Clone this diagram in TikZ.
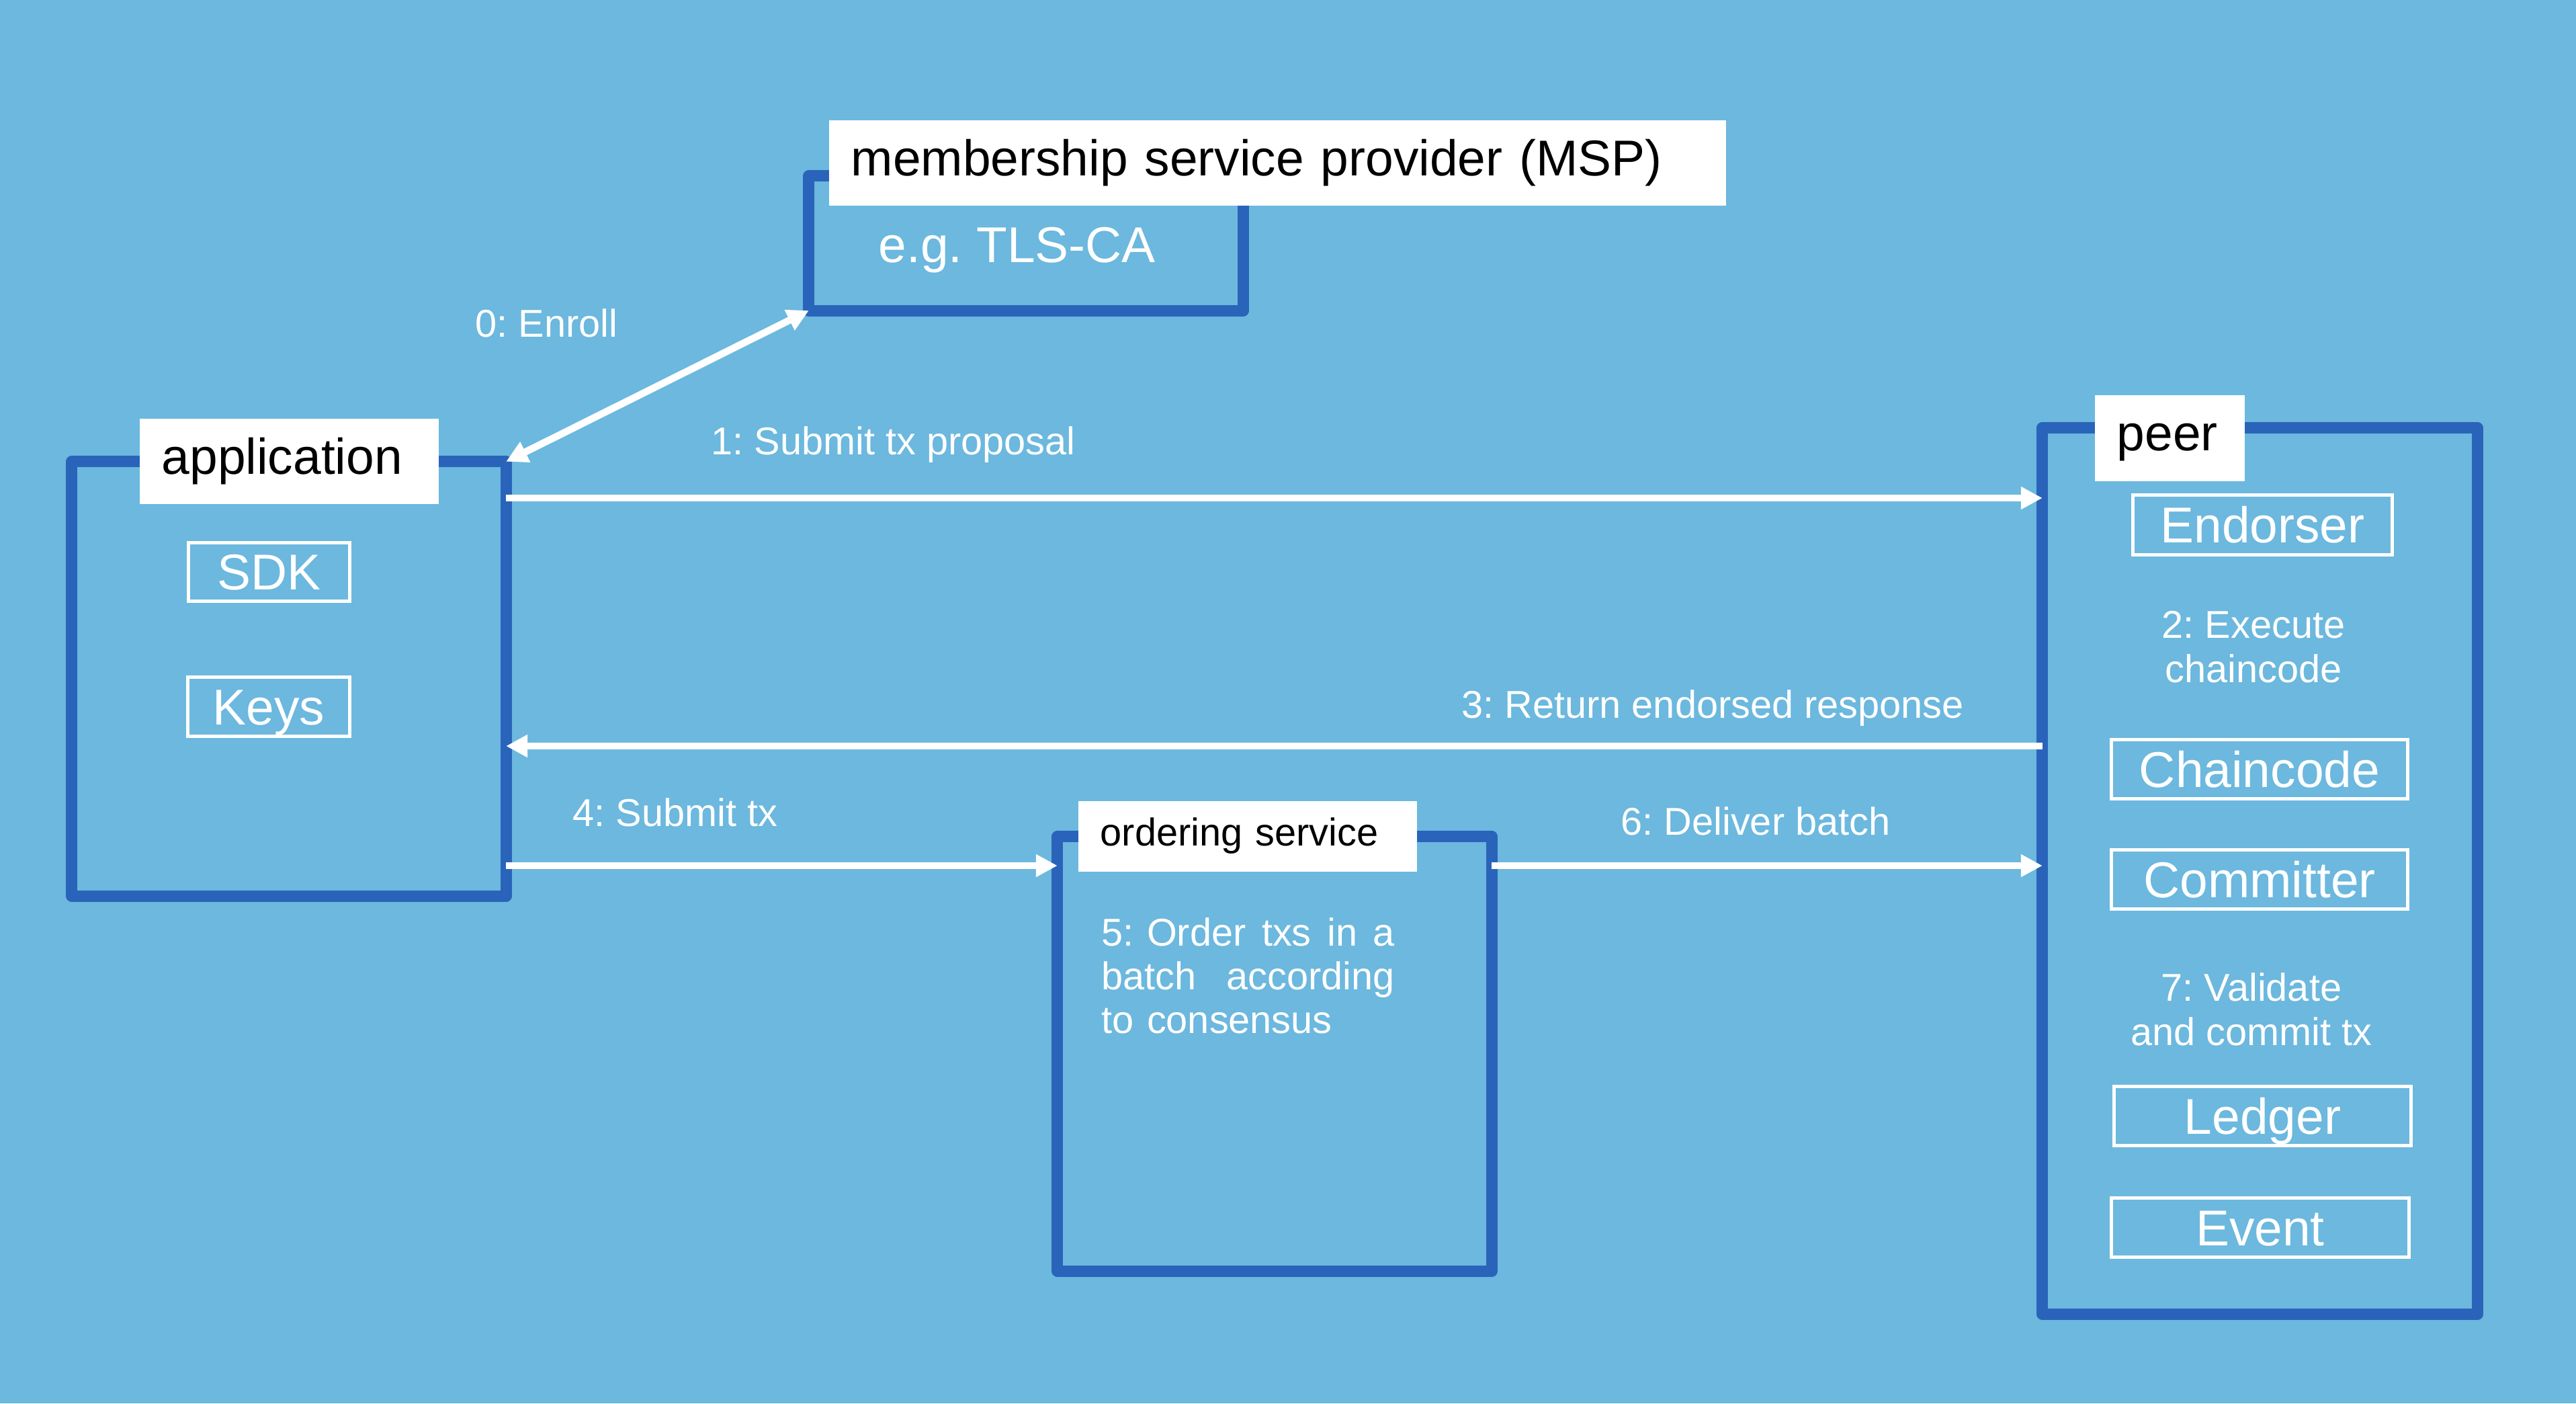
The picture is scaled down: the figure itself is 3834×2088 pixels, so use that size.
\documentclass[tikz,border=0pt]{standalone}
\usepackage{fontspec}
\setmainfont{Liberation Sans}
\usetikzlibrary{arrows.meta}
\frenchspacing

\definecolor{skyblue}{HTML}{6CB8DE}
\definecolor{frameblue}{HTML}{2964BA}

\tikzset{
    bigtxt/.style={font=\fontsize{21.3pt}{25pt}\selectfont},
    smalltxt/.style={font=\fontsize{16.4pt}{18.6pt}\selectfont},
    tag/.style={fill=white, text=black, anchor=west, inner xsep=0.33cm, inner ysep=0pt,
        align=left, text height=16pt, text depth=5.3pt},
    inbox/.style={draw=white, line width=0.05cm, text=white, inner sep=0pt,
        text height=15.3pt, text depth=0pt, bigtxt},
    note/.style={text=white, inner sep=0pt, smalltxt},
    flow/.style={draw=white, line width=0.105cm, ->},
}

\begin{document}
\begin{tikzpicture}[x=0.01cm, y=-0.01cm, >={Triangle[length=0.32cm, width=0.32cm]}]
    \fill[skyblue] (0,0) rectangle (3834,2088);
    \useasboundingbox (0,0) rectangle (3834,2088);

    % Rahmen
    \begin{scope}[every node/.style={draw=frameblue, line width=0.17cm, line join=round,
            outer sep=0pt, minimum width=6.46cm}]
        \node[minimum height=2cm] (msp) at (1527,362) {};
        \node[minimum height=6.46cm] (app) at (430,1010) {};
        \node[minimum height=6.46cm] (ord) at (1897,1568) {};
        \node[minimum width=6.47cm, minimum height=13.18cm] (peer) at (3363.5,1296) {};
    \end{scope}

    % Titel
    \node[tag, bigtxt, text width=12.68cm, minimum height=1.27cm] (msptag) at (1233,242.5) {membership service provider (MSP)};
    \node[tag, bigtxt, text width=3.79cm, minimum height=1.27cm] (apptag) at (207,686.5) {application};
    \node[tag, bigtxt, text width=1.57cm, minimum height=1.28cm] (peertag) at (3117,652) {peer};
    \node[tag, smalltxt, text height=12.3pt, text depth=4.1pt, text width=4.38cm,
        minimum height=1.05cm] (ordtag) at (1604,1244.5) {ordering service};

    % Komponenten
    \node[inbox, minimum width=2.40cm, minimum height=0.87cm] (sdk) at (400.5,851) {SDK};
    \node[inbox, minimum width=2.40cm, minimum height=0.88cm] (keys) at (400,1051.5) {Keys};
    \node[inbox, minimum width=3.86cm, minimum height=0.89cm] (endorser) at (3367.5,781) {Endorser};
    \node[inbox, minimum width=4.40cm, minimum height=0.88cm] (chaincode) at (3363,1144.5) {Chaincode};
    \node[inbox, minimum width=4.40cm, minimum height=0.88cm] (committer) at (3363,1308.5) {Committer};
    \node[inbox, minimum width=4.42cm, minimum height=0.88cm] (ledger) at (3367.5,1660.5) {Ledger};
    \node[inbox, minimum width=4.43cm, minimum height=0.88cm] (event) at (3364,1826.5) {Event};

    % Texte
    \node[note, bigtxt, anchor=base west] (tlsca) at (1307,390) {e.g. TLS-CA};
    \node[note, anchor=base west] (enroll) at (707,501) {0: Enroll};
    \node[note, anchor=base west] (proposal) at (1058,676) {1: Submit tx proposal};
    \node[note, anchor=base, align=center] (execute) at (3354,1015) {2: Execute\\chaincode};
    \node[note, anchor=base west] (response) at (2175,1068) {3: Return endorsed response};
    \node[note, anchor=base west] (submit) at (852,1229) {4: Submit tx};
    \node[note, anchor=base west, text width=4.36cm, align=left] (order) at (1639,1407)
        {\makebox[4.36cm][l]{5: Order\hfill txs\hfill in\hfill a}\\
         \makebox[4.36cm][l]{batch\hfill according}\\to consensus};
    \node[note, anchor=base west] (deliver) at (2412,1242) {6: Deliver batch};
    \node[note, anchor=base, align=center] (validate) at (3351,1555) {7: Validate\\and commit tx};

    % Pfeile
    \coordinate (y1) at (0,741);
    \coordinate (y3) at (0,1110);
    \coordinate (y4) at (0,1288);
    \draw[flow, <->] (app.north east) -- (msp.south west);
    \draw[flow] (app.east |- y1) -- (peer.west |- y1);
    \draw[flow] (peer.west |- y3) -- (app.east |- y3);
    \draw[flow] (app.east |- y4) -- (ord.west |- y4);
    \draw[flow] (ord.east |- y4) -- (peer.west |- y4);
\end{tikzpicture}
\end{document}
